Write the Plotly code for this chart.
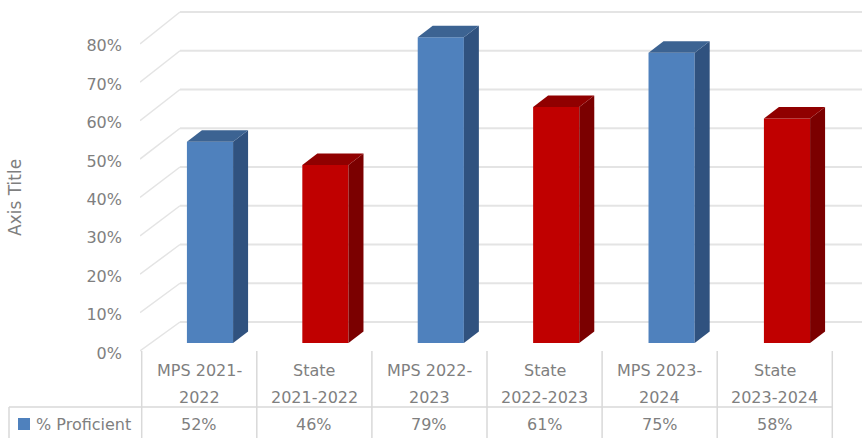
import plotly.graph_objects as go

cat_line1 = ["MPS 2021-", "State", "MPS 2022-", "State", "MPS 2023-", "State"]
cat_line2 = ["2022", "2021-2022", "2023", "2022-2023", "2024", "2023-2024"]
values = [52, 46, 79, 61, 75, 58]
value_labels = ["52%", "46%", "79%", "61%", "75%", "58%"]
front_colors = ["#4f81bd", "#c00000"] * 3
side_colors = ["#30527f", "#7b0000"] * 3
top_colors = ["#3c6392", "#900000"] * 3
tick_vals = [0, 10, 20, 30, 40, 50, 60, 70, 80]
tick_text = ["0%", "10%", "20%", "30%", "40%", "50%", "60%", "70%", "80%"]
series_name = "% Proficient"

W, H = 862, 438
TXT = "#7f7f7f"
FONT = "DejaVu Sans"
GRID = "#e4e4e4"
TBL = "#d9d9d9"
BW = 0.4
DX = 15 / 115.4
DY = 11.5 / 3.87

fig = go.Figure()
xs = list(range(len(values)))
fig.add_trace(go.Bar(x=xs, y=values, width=BW, marker=dict(color=front_colors, line=dict(width=0)), hoverinfo="skip"))
for i, v in enumerate(values):
    r = i + BW / 2
    l = i - BW / 2
    fig.add_trace(go.Scatter(x=[r, r + DX, r + DX, r, r], y=[0, DY, v + DY, v, 0], mode="lines",
                             fill="toself", fillcolor=side_colors[i], line=dict(width=0), hoverinfo="skip"))
    fig.add_trace(go.Scatter(x=[l, l + DX, r + DX, r, l], y=[v, v + DY, v + DY, v, v], mode="lines",
                             fill="toself", fillcolor=top_colors[i], line=dict(width=0), hoverinfo="skip"))
fig.add_trace(go.Scatter(x=[0] * len(tick_vals), y=tick_vals, yaxis="y2", mode="markers",
                         marker=dict(opacity=0), hoverinfo="skip"))

shapes = []
x_left, x_back, x_right = (140 - 210) / 115.4, (180 - 210) / 115.4, (862 - 210) / 115.4
for t in tick_vals:
    yf = -2.07 + 0.992 * t
    yb = 5.43 + 1.0013 * t
    shapes.append(dict(type="line", layer="below", xref="x", yref="y", x0=x_left, x1=x_back, y0=yf, y1=yb,
                       line=dict(color=GRID, width=1.5)))
    shapes.append(dict(type="line", layer="below", xref="x", yref="y", x0=x_back, x1=x_right, y0=yb, y1=yb,
                       line=dict(color=GRID, width=2)))

def px(x):
    return x / W
def py(y):
    return 1 - y / H

col_edges = [141.7 + 115.1 * i for i in range(7)]
for x in col_edges:
    shapes.append(dict(type="line", xref="paper", yref="paper", x0=px(x), x1=px(x), y0=py(351), y1=py(438),
                       line=dict(color=TBL, width=1.5)))
shapes.append(dict(type="line", xref="paper", yref="paper", x0=px(9), x1=px(col_edges[-1]), y0=py(407), y1=py(407),
                   line=dict(color=TBL, width=1.5)))
shapes.append(dict(type="line", xref="paper", yref="paper", x0=px(9), x1=px(9), y0=py(407), y1=py(438),
                   line=dict(color=TBL, width=1.5)))
shapes.append(dict(type="rect", xref="paper", yref="paper", x0=px(18), x1=px(30), y0=py(430), y1=py(418),
                   fillcolor=front_colors[0], line=dict(width=0)))

ann = []
def text(x, y, s, size=16, **kw):
    ann.append(dict(x=px(x), y=py(y), xref="paper", yref="paper", text=s, showarrow=False,
                    font=dict(family=FONT, size=size, color=TXT), xanchor=kw.pop("xanchor", "center"),
                    yanchor="middle", **kw))

for i in range(len(values)):
    c = (col_edges[i] + col_edges[i + 1]) / 2
    text(c, 370, cat_line1[i])
    text(c, 397, cat_line2[i])
    text(c, 424, value_labels[i])
text(34, 424, series_name, xanchor="left")
text(15, 198, "Axis Title", size=17, textangle=-90)

bottom = 360
fig.update_layout(
    width=W, height=H + 3, margin=dict(l=0, r=0, t=0, b=0), showlegend=False,
    paper_bgcolor="white", plot_bgcolor="rgba(0,0,0,0)", shapes=shapes, annotations=ann, barmode="overlay",
    xaxis=dict(domain=[140 / W, 1], range=[x_left, x_right], visible=False, fixedrange=True),
    yaxis=dict(domain=[(H - bottom) / H, 1], range=[-17 / 3.87, 343 / 3.87], visible=False, fixedrange=True),
    yaxis2=dict(domain=[(H - bottom) / H, 1], range=[-7 / 3.84, 353 / 3.84], overlaying="y", side="left", anchor="x",
                tickvals=tick_vals, ticktext=tick_text, showgrid=False, zeroline=False, showline=False, ticks="",
                ticklabelstandoff=17, tickfont=dict(family=FONT, size=16, color=TXT), fixedrange=True),
)
fig.write_html("out.html", config={"displayModeBar": False},
               post_script="document.body.style.margin='0';document.body.style.overflow='hidden';")
